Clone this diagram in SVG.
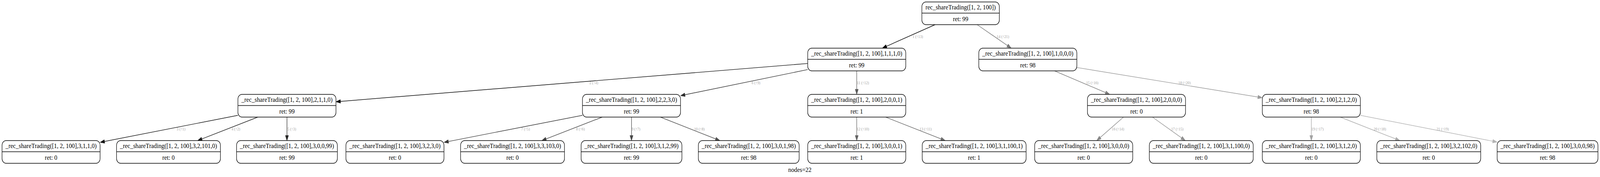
<svg xmlns="http://www.w3.org/2000/svg" width="4667" height="452" viewBox="0 0 4667 452" preserveAspectRatio="none">
<style>
svg{width:100vw;height:100vh}
.bg{fill:#ffffff}
.node rect{fill:#ffffff;stroke:#000000;stroke-width:1.4}
.node line{stroke:#000000;stroke-width:1.4}
.node text,.title{font-family:"Liberation Serif","Times New Roman",serif;font-size:17.4px;text-anchor:middle;fill:#000000}
.edge line{stroke-width:1.4;fill:none}
.lbl{font-family:"Liberation Serif","Times New Roman",serif;font-size:10.5px;text-anchor:middle;fill:#a0a0a0}
</style>
<rect class="bg" x="0" y="0" width="4667" height="452"/>
<g id="connectors">
<g class="edge" id="e1"><line x1="2727.5" y1="63" x2="2585.6" y2="118.3" stroke="#000000"/><polygon points="2573.5,123 2583.97,114.11 2587.23,122.49" fill="#000000" stroke="#000000"/></g>
<g class="edge" id="e14"><line x1="2850.2" y1="63" x2="2938.67" y2="116.29" stroke="#757575"/><polygon points="2949.8,123 2936.35,120.14 2940.99,112.44" fill="#757575" stroke="#757575"/></g>
<g class="edge" id="e2"><line x1="2356" y1="162.15" x2="992.97" y2="258.93" stroke="#090909"/><polygon points="980,259.85 992.65,254.44 993.29,263.42" fill="#090909" stroke="#090909"/></g>
<g class="edge" id="e6"><line x1="2356" y1="177.68" x2="1997.8" y2="242.02" stroke="#2d2d2d"/><polygon points="1985,244.32 1997,237.59 1998.6,246.45" fill="#2d2d2d" stroke="#2d2d2d"/></g>
<g class="edge" id="e11"><line x1="2499" y1="181" x2="2499" y2="228" stroke="#5a5a5a"/><polygon points="2499,241 2494.5,228 2503.5,228" fill="#5a5a5a" stroke="#5a5a5a"/></g>
<g class="edge" id="e15"><line x1="3075.9" y1="181" x2="3224.92" y2="236.47" stroke="#7e7e7e"/><polygon points="3237.1,241 3223.35,240.69 3226.49,232.25" fill="#7e7e7e" stroke="#7e7e7e"/></g>
<g class="edge" id="e18"><line x1="3141" y1="172.4" x2="3669.13" y2="247.76" stroke="#999999"/><polygon points="3682,249.6 3668.49,252.21 3669.77,243.31" fill="#999999" stroke="#999999"/></g>
<g class="edge" id="e3"><line x1="694" y1="294.5" x2="304.81" y2="361.3" stroke="#121212"/><polygon points="292,363.5 304.05,356.86 305.57,365.74" fill="#121212" stroke="#121212"/></g>
<g class="edge" id="e4"><line x1="752.1" y1="299" x2="588.7" y2="354.8" stroke="#1b1b1b"/><polygon points="576.4,359 587.25,350.54 590.15,359.06" fill="#1b1b1b" stroke="#1b1b1b"/></g>
<g class="edge" id="e5"><line x1="837" y1="299" x2="837" y2="346" stroke="#242424"/><polygon points="837,359 832.5,346 841.5,346" fill="#242424" stroke="#242424"/></g>
<g class="edge" id="e7"><line x1="1699" y1="294.45" x2="1307.81" y2="361.36" stroke="#363636"/><polygon points="1295,363.55 1307.05,356.92 1308.57,365.8" fill="#363636" stroke="#363636"/></g>
<g class="edge" id="e8"><line x1="1756.7" y1="299" x2="1592.61" y2="354.81" stroke="#3f3f3f"/><polygon points="1580.3,359 1591.16,350.55 1594.06,359.07" fill="#3f3f3f" stroke="#3f3f3f"/></g>
<g class="edge" id="e9"><line x1="1842" y1="299" x2="1842" y2="346" stroke="#484848"/><polygon points="1842,359 1837.5,346 1846.5,346" fill="#484848" stroke="#484848"/></g>
<g class="edge" id="e10"><line x1="1926.1" y1="299" x2="2087.61" y2="354.76" stroke="#515151"/><polygon points="2099.9,359 2086.14,359.01 2089.08,350.51" fill="#515151" stroke="#515151"/></g>
<g class="edge" id="e12"><line x1="2499" y1="299" x2="2499" y2="346" stroke="#636363"/><polygon points="2499,359 2494.5,346 2503.5,346" fill="#636363" stroke="#636363"/></g>
<g class="edge" id="e13"><line x1="2583.2" y1="299" x2="2745.01" y2="354.76" stroke="#6c6c6c"/><polygon points="2757.3,359 2743.54,359.02 2746.48,350.5" fill="#6c6c6c" stroke="#6c6c6c"/></g>
<g class="edge" id="e16"><line x1="3277.1" y1="299" x2="3209.21" y2="351.09" stroke="#878787"/><polygon points="3198.9,359 3206.47,347.52 3211.95,354.66" fill="#878787" stroke="#878787"/></g>
<g class="edge" id="e17"><line x1="3361.5" y1="299" x2="3446.48" y2="352.11" stroke="#909090"/><polygon points="3457.5,359 3444.09,355.93 3448.87,348.29" fill="#909090" stroke="#909090"/></g>
<g class="edge" id="e19"><line x1="3825" y1="299" x2="3825" y2="346" stroke="#a2a2a2"/><polygon points="3825,359 3820.5,346 3829.5,346" fill="#a2a2a2" stroke="#a2a2a2"/></g>
<g class="edge" id="e20"><line x1="3909.2" y1="299" x2="4071.01" y2="354.76" stroke="#ababab"/><polygon points="4083.3,359 4069.54,359.02 4072.48,350.5" fill="#ababab" stroke="#ababab"/></g>
<g class="edge" id="e21"><line x1="3968" y1="294.5" x2="4354.19" y2="360.61" stroke="#b4b4b4"/><polygon points="4367,362.8 4353.43,365.05 4354.95,356.17" fill="#b4b4b4" stroke="#b4b4b4"/></g>
<text class="lbl" x="2677" y="97">1 (↑13)</text>
<text class="lbl" x="2925.5" y="97">14 (↑21)</text>
<text class="lbl" x="1732" y="215">2 (↑4)</text>
<text class="lbl" x="2205" y="215">6 (↑9)</text>
<text class="lbl" x="2517" y="215">11 (↑12)</text>
<text class="lbl" x="3186" y="215">15 (↑16)</text>
<text class="lbl" x="3455" y="215">18 (↑20)</text>
<text class="lbl" x="528" y="333">3 (↑1)</text>
<text class="lbl" x="688" y="333">4 (↑2)</text>
<text class="lbl" x="851" y="333">5 (↑3)</text>
<text class="lbl" x="1533" y="333">7 (↑5)</text>
<text class="lbl" x="1693" y="333">8 (↑6)</text>
<text class="lbl" x="1855" y="333">9 (↑7)</text>
<text class="lbl" x="2040" y="333">10 (↑8)</text>
<text class="lbl" x="2517" y="333">12 (↑10)</text>
<text class="lbl" x="2700" y="333">13 (↑11)</text>
<text class="lbl" x="3261" y="333">16 (↑14)</text>
<text class="lbl" x="3434" y="333">17 (↑15)</text>
<text class="lbl" x="3843" y="333">19 (↑17)</text>
<text class="lbl" x="4025" y="333">20 (↑18)</text>
<text class="lbl" x="4208" y="333">21 (↑19)</text>
</g>
<g class="node" id="root"><rect x="2689" y="5" width="226" height="58" rx="12"/><line x1="2689" y1="33.5" x2="2915" y2="33.5"/><text x="2802" y="24">rec_shareTrading([1, 2, 100])</text><text x="2802" y="54">ret: 99</text></g>
<g class="node" id="n1110"><rect x="2356" y="123" width="286" height="58" rx="12"/><line x1="2356" y1="151.5" x2="2642" y2="151.5"/><text x="2499" y="142">_rec_shareTrading([1, 2, 100],1,1,1,0)</text><text x="2499" y="172">ret: 99</text></g>
<g class="node" id="n1000"><rect x="2855" y="123" width="286" height="58" rx="12"/><line x1="2855" y1="151.5" x2="3141" y2="151.5"/><text x="2998" y="142">_rec_shareTrading([1, 2, 100],1,0,0,0)</text><text x="2998" y="172">ret: 98</text></g>
<g class="node" id="n2110"><rect x="694" y="241" width="286" height="58" rx="12"/><line x1="694" y1="269.5" x2="980" y2="269.5"/><text x="837" y="260">_rec_shareTrading([1, 2, 100],2,1,1,0)</text><text x="837" y="290">ret: 99</text></g>
<g class="node" id="n2230"><rect x="1699" y="241" width="286" height="58" rx="12"/><line x1="1699" y1="269.5" x2="1985" y2="269.5"/><text x="1842" y="260">_rec_shareTrading([1, 2, 100],2,2,3,0)</text><text x="1842" y="290">ret: 99</text></g>
<g class="node" id="n2001"><rect x="2356" y="241" width="286" height="58" rx="12"/><line x1="2356" y1="269.5" x2="2642" y2="269.5"/><text x="2499" y="260">_rec_shareTrading([1, 2, 100],2,0,0,1)</text><text x="2499" y="290">ret: 1</text></g>
<g class="node" id="n2000"><rect x="3172" y="241" width="286" height="58" rx="12"/><line x1="3172" y1="269.5" x2="3458" y2="269.5"/><text x="3315" y="260">_rec_shareTrading([1, 2, 100],2,0,0,0)</text><text x="3315" y="290">ret: 0</text></g>
<g class="node" id="n2120"><rect x="3682" y="241" width="286" height="58" rx="12"/><line x1="3682" y1="269.5" x2="3968" y2="269.5"/><text x="3825" y="260">_rec_shareTrading([1, 2, 100],2,1,2,0)</text><text x="3825" y="290">ret: 98</text></g>
<g class="node" id="n3110"><rect x="6" y="359" width="286" height="58" rx="12"/><line x1="6" y1="387.5" x2="292" y2="387.5"/><text x="149" y="378">_rec_shareTrading([1, 2, 100],3,1,1,0)</text><text x="149" y="408">ret: 0</text></g>
<g class="node" id="n32101"><rect x="340" y="359" width="303" height="58" rx="12"/><line x1="340" y1="387.5" x2="643" y2="387.5"/><text x="491.5" y="378">_rec_shareTrading([1, 2, 100],3,2,101,0)</text><text x="491.5" y="408">ret: 0</text></g>
<g class="node" id="n30099"><rect x="690" y="359" width="294" height="58" rx="12"/><line x1="690" y1="387.5" x2="984" y2="387.5"/><text x="837" y="378">_rec_shareTrading([1, 2, 100],3,0,0,99)</text><text x="837" y="408">ret: 99</text></g>
<g class="node" id="n3230"><rect x="1009" y="359" width="286" height="58" rx="12"/><line x1="1009" y1="387.5" x2="1295" y2="387.5"/><text x="1152" y="378">_rec_shareTrading([1, 2, 100],3,2,3,0)</text><text x="1152" y="408">ret: 0</text></g>
<g class="node" id="n33103"><rect x="1343.5" y="359" width="303" height="58" rx="12"/><line x1="1343.5" y1="387.5" x2="1646.5" y2="387.5"/><text x="1495" y="378">_rec_shareTrading([1, 2, 100],3,3,103,0)</text><text x="1495" y="408">ret: 0</text></g>
<g class="node" id="n31299"><rect x="1695" y="359" width="294" height="58" rx="12"/><line x1="1695" y1="387.5" x2="1989" y2="387.5"/><text x="1842" y="378">_rec_shareTrading([1, 2, 100],3,1,2,99)</text><text x="1842" y="408">ret: 99</text></g>
<g class="node" id="n30198"><rect x="2037" y="359" width="294" height="58" rx="12"/><line x1="2037" y1="387.5" x2="2331" y2="387.5"/><text x="2184" y="378">_rec_shareTrading([1, 2, 100],3,0,1,98)</text><text x="2184" y="408">ret: 98</text></g>
<g class="node" id="n3001"><rect x="2356" y="359" width="286" height="58" rx="12"/><line x1="2356" y1="387.5" x2="2642" y2="387.5"/><text x="2499" y="378">_rec_shareTrading([1, 2, 100],3,0,0,1)</text><text x="2499" y="408">ret: 1</text></g>
<g class="node" id="n31001"><rect x="2690" y="359" width="303" height="58" rx="12"/><line x1="2690" y1="387.5" x2="2993" y2="387.5"/><text x="2841.5" y="378">_rec_shareTrading([1, 2, 100],3,1,100,1)</text><text x="2841.5" y="408">ret: 1</text></g>
<g class="node" id="n3000"><rect x="3018" y="359" width="286" height="58" rx="12"/><line x1="3018" y1="387.5" x2="3304" y2="387.5"/><text x="3161" y="378">_rec_shareTrading([1, 2, 100],3,0,0,0)</text><text x="3161" y="408">ret: 0</text></g>
<g class="node" id="n31000"><rect x="3352.5" y="359" width="303" height="58" rx="12"/><line x1="3352.5" y1="387.5" x2="3655.5" y2="387.5"/><text x="3504" y="378">_rec_shareTrading([1, 2, 100],3,1,100,0)</text><text x="3504" y="408">ret: 0</text></g>
<g class="node" id="n3120"><rect x="3682" y="359" width="286" height="58" rx="12"/><line x1="3682" y1="387.5" x2="3968" y2="387.5"/><text x="3825" y="378">_rec_shareTrading([1, 2, 100],3,1,2,0)</text><text x="3825" y="408">ret: 0</text></g>
<g class="node" id="n32102"><rect x="4016" y="359" width="303" height="58" rx="12"/><line x1="4016" y1="387.5" x2="4319" y2="387.5"/><text x="4167.5" y="378">_rec_shareTrading([1, 2, 100],3,2,102,0)</text><text x="4167.5" y="408">ret: 0</text></g>
<g class="node" id="n30098"><rect x="4367" y="359" width="294" height="58" rx="12"/><line x1="4367" y1="387.5" x2="4661" y2="387.5"/><text x="4514" y="378">_rec_shareTrading([1, 2, 100],3,0,0,98)</text><text x="4514" y="408">ret: 98</text></g>
<text class="title" x="2333" y="439">nodes=22</text>
</svg>
